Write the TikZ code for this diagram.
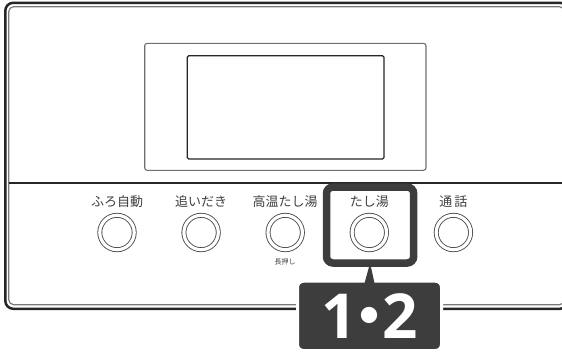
\documentclass[tikz,border=0pt]{standalone}
\usepackage{fontspec}
\newfontfamily\jpfont{Noto Sans CJK JP}
\newfontfamily\digitfont{Open Sans}
\usetikzlibrary{positioning}

\definecolor{inkdark}{HTML}{262626}
\definecolor{inkgray}{HTML}{7A7A7A}
\definecolor{labelink}{HTML}{3F3F3F}
\definecolor{badgefill}{HTML}{3D3D3D}

\begin{document}
\begin{tikzpicture}[
  x=1pt, y=-1pt,
  panelouter/.style={draw=inkdark, line width=2.5pt, rounded corners=8pt},
  panelinner/.style={draw=inkgray, line width=1.2pt, rounded corners=5pt},
  divider/.style={draw=inkdark, line width=1.8pt},
  screenframe/.style={draw=inkgray!90!black, line width=1.1pt, rounded corners=2.5pt},
  screen/.style={draw=inkdark, line width=1.2pt, rounded corners=1.5pt},
  button/.style={circle, draw=inkdark!85, double=white, double distance=3.2pt,
    line width=0.85pt, minimum size=34.4pt, inner sep=0pt, outer sep=0pt},
  btnlabel/.style={font=\jpfont\fontsize{13}{13}\selectfont, text=labelink,
    inner sep=0pt, outer sep=0pt},
  note/.style={font=\jpfont\fontsize{7}{7}\selectfont, text=labelink,
    inner sep=0pt, outer sep=0pt},
  hilite/.style={draw=badgefill, line width=7.5pt, rounded corners=6.5pt,
    minimum width=87.2pt, minimum height=76pt, inner sep=0pt, outer sep=0pt},
  badge/.style={fill=badgefill, draw=white, line width=3pt, rounded corners=6pt,
    minimum width=144pt, minimum height=69.3pt, inner sep=0pt, outer sep=0pt,
    text=white, font=\digitfont\bfseries\fontsize{62}{62}\selectfont}
]
\useasboundingbox (0,0) rectangle (562,351);
\clip (0,0) rectangle (562,351);

% panel
\draw[panelouter] (5.3,2.8) rectangle (568,308.8);
\draw[panelinner] (8.7,6.7) rectangle (564.5,304.7);
\draw[divider] (8.7,183) -- (566,183);

% display
\draw[screenframe] (144.7,43.3) rectangle (426,170.3);
\draw[screen] (187.3,55.7) rectangle (384,159);

% buttons
\node[button] (furo) at (117,232.5) {};
\node[button, right=49.7pt of furo] (oidaki) {};
\node[button, right=49.7pt of oidaki] (koon) {};
\node[button, right=49.7pt of koon] (tashiyu) {};
\node[button, right=49.7pt of tashiyu] (tsuwa) {};

\node[btnlabel, above=8pt of furo] (furolabel) {ふろ自動};
\node[btnlabel, above=8pt of oidaki] (oidakilabel) {追いだき};
\node[btnlabel, above=8pt of koon] (koonlabel) {高温たし湯};
\node[btnlabel, above=8pt of tashiyu] (tashiyulabel) {たし湯};
\node[btnlabel, above=8pt of tsuwa] (tsuwalabel) {通\,話};
\node[note, below=8.5pt of koon] (longpress) {長押し};

% callout
\node[hilite] (hl) at (370.1,225) {};
\node[badge] (badge) at (369.5,315.85)
  {1\makebox[26pt]{\raisebox{1pt}{\jpfont\fontsize{58}{58}\selectfont ・}}2};
\fill[badgefill] ([xshift=-5pt, yshift=-2pt]badge.north) -- (hl.south)
  -- ([xshift=5pt, yshift=-2pt]badge.north) -- cycle;
\end{tikzpicture}
\end{document}
